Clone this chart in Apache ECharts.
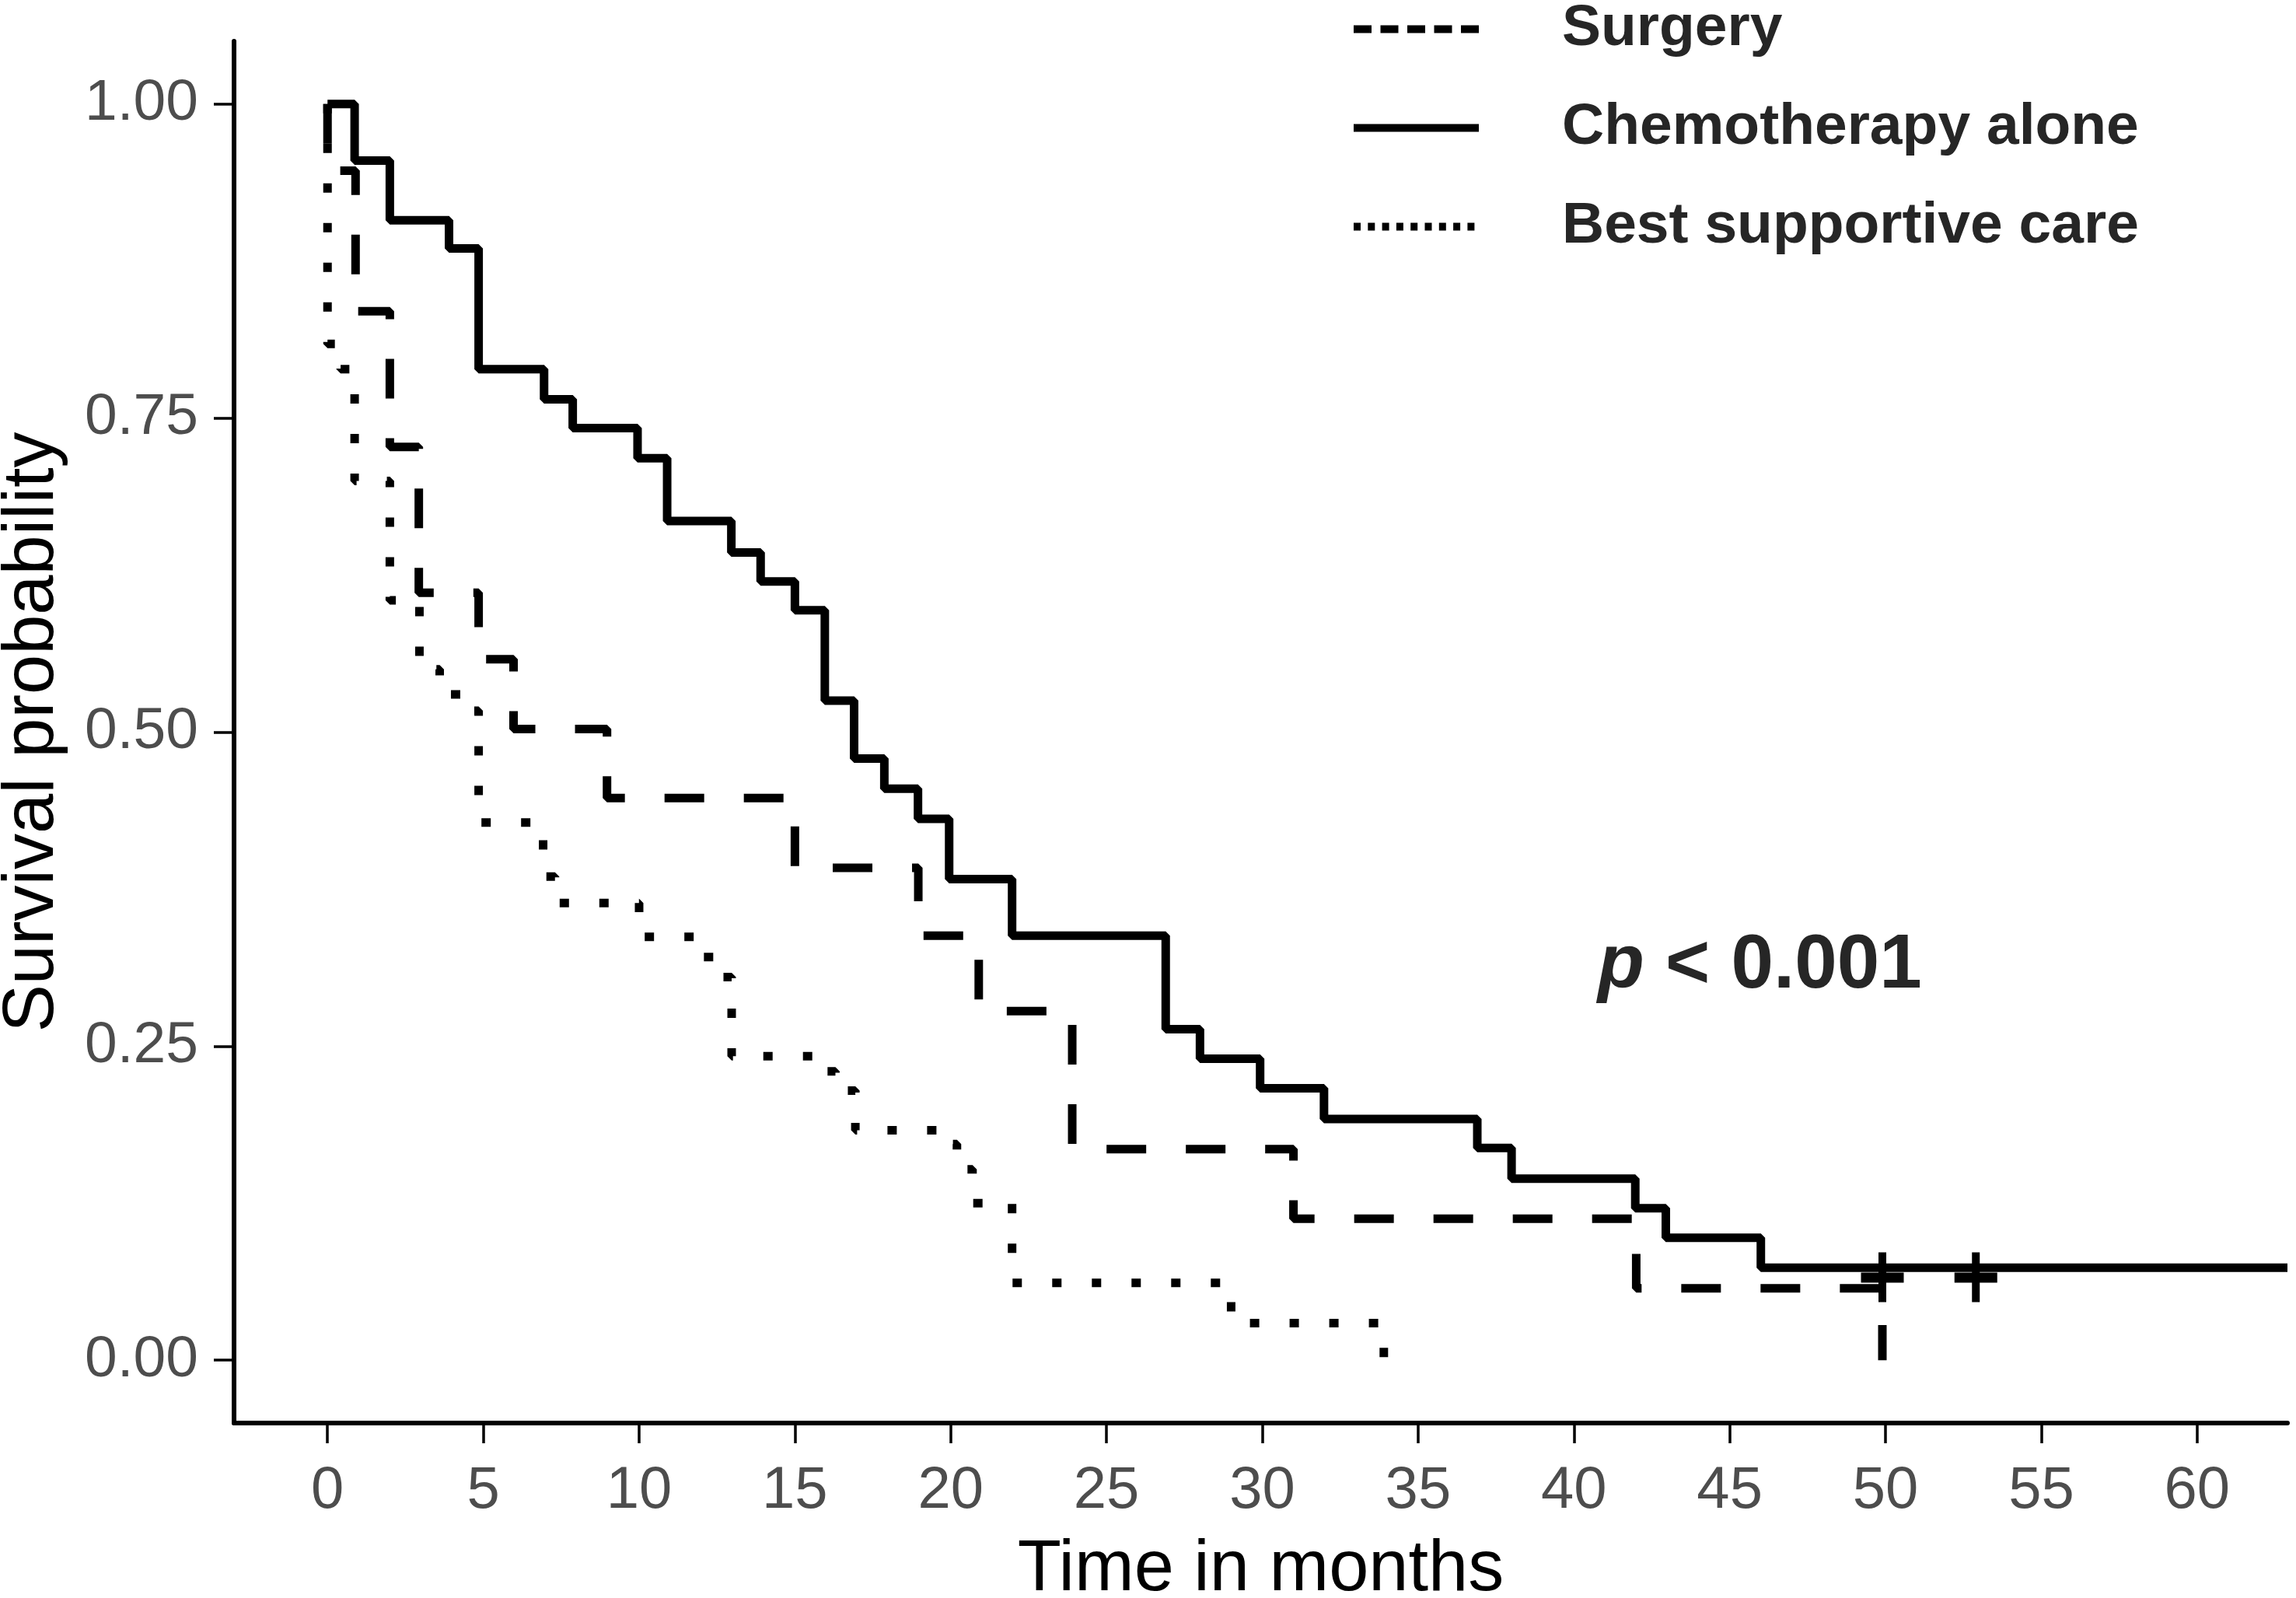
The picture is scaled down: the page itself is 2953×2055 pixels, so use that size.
<!DOCTYPE html>
<html>
<head>
<meta charset="utf-8">
<title>Survival by treatment</title>
<script src="https://cdn.jsdelivr.net/npm/echarts@6/dist/echarts.min.js"></script>
<style>
  html, body { margin: 0; padding: 0; background: #fff; overflow: hidden; }
  #chart { width: 2953px; height: 2055px; display: block; }
</style>
</head>
<body>
<div id="chart"></div>
<script>
// Kaplan-Meier steps (time in months, survival)
var surgeryTime = [0, 0, 0.9, 2.0, 2.93, 4.85, 5.97, 8.97, 15.0, 18.96, 20.9, 23.9, 31.0, 42.0, 49.9];
var surgerySurv = [1.0, 0.947, 0.835, 0.727, 0.611, 0.558, 0.5025, 0.4475, 0.392, 0.338, 0.278, 0.168, 0.1126, 0.0573, 0.0];

var chemoTime = [0, 0.87, 2.0, 3.9, 4.85, 6.95, 7.87, 9.95, 10.9, 12.96, 13.9, 15.0, 15.96, 16.9, 17.87, 18.95,
  19.95, 21.97, 26.9, 28.0, 29.93, 31.98, 36.9, 38.0, 41.97, 42.95, 46.0, 62.9];
var chemoSurv = [1.0, 0.955, 0.9075, 0.885, 0.789, 0.765, 0.742, 0.718, 0.668, 0.643, 0.620, 0.597, 0.525, 0.479, 0.455, 0.431,
  0.383, 0.338, 0.2635, 0.240, 0.2165, 0.192, 0.169, 0.1445, 0.121, 0.0975, 0.0737, 0.0737];

var bscTime = [0, 0, 0.42, 0.87, 2.0, 2.95, 3.6, 4.3, 4.85, 6.92, 7.3, 10.0, 11.8, 12.4, 12.97, 15.7, 16.3, 16.94,
  19.6, 20.2, 20.7, 21.97, 29.0, 33.9];
var bscSurv = [1.0, 0.809, 0.789, 0.70, 0.605, 0.55, 0.53, 0.517, 0.428, 0.385, 0.364, 0.337, 0.321, 0.305, 0.242, 0.230, 0.2146, 0.183,
  0.172, 0.152, 0.125, 0.0616, 0.0296, 0.0];

// censor marks on the chemotherapy curve
var censorTime = [49.9, 52.9];
var censorSurv = [0.066, 0.066];

var xTicks = [0, 5, 10, 15, 20, 25, 30, 35, 40, 45, 50, 55, 60];
var yTicks = [0, 0.25, 0.5, 0.75, 1];

var FONT = '"Liberation Sans", Arial, sans-serif';

function zip(a, b) {
  var out = [];
  for (var i = 0; i < a.length; i++) out.push([a[i], b[i]]);
  return out;
}

var chart = echarts.init(document.getElementById("chart"));

chart.setOption({
  animation: false,
  backgroundColor: "#ffffff",
  grid: {
    left: 301,
    right: 11,
    top: 53,
    bottom: 225,
    containLabel: false,
    outerBoundsMode: "none"
  },
  xAxis: {
    type: "value",
    min: -3,
    max: 62.9,
    name: "Time in months",
    nameLocation: "middle",
    nameGap: 144,
    nameTextStyle: { fontSize: 92, color: "#000", fontFamily: FONT },
    axisLine: { show: true, onZero: false, lineStyle: { color: "#000", width: 6 } },
    axisTick: { show: true, length: 26, customValues: xTicks, lineStyle: { color: "#000", width: 3.5 } },
    axisLabel: { customValues: xTicks, margin: 50, fontSize: 76, color: "#4d4d4d", fontFamily: FONT },
    splitLine: { show: false }
  },
  yAxis: {
    type: "value",
    min: -0.05,
    max: 1.05,
    name: "Survival probability",
    nameLocation: "middle",
    nameGap: 212,
    nameRotate: 90,
    nameTextStyle: { fontSize: 92, color: "#000", fontFamily: FONT },
    axisLine: { show: true, onZero: false, lineStyle: { color: "#000", width: 6 } },
    axisTick: { show: true, length: 26, customValues: yTicks, lineStyle: { color: "#000", width: 3.5 } },
    axisLabel: {
      customValues: yTicks,
      margin: 46,
      fontSize: 75,
      color: "#4d4d4d",
      fontFamily: FONT,
      formatter: function(v) { return v.toFixed(2); }
    },
    splitLine: { show: false }
  },
  legend: {
    orient: "vertical",
    left: 1736,
    top: 0,
    padding: 0,
    itemGap: 52,
    itemWidth: 161,
    itemHeight: 10,
    selectedMode: false,
    lineStyle: { width: 10, color: "#000" },
    itemStyle: { opacity: 0 },
    data: [
      { name: "Surgery", lineStyle: { type: [23, 11.5], width: 10, color: "#000" }, itemStyle: { opacity: 0 } },
      { name: "Chemotherapy alone", lineStyle: { type: "solid", width: 10, color: "#000" }, itemStyle: { opacity: 0 } },
      { name: "Best supportive care", lineStyle: { type: [9, 9.3], width: 10, color: "#000" }, itemStyle: { opacity: 0 } }
    ],
    textStyle: {
      fontSize: 75,
      fontWeight: "bold",
      color: "#262626",
      fontFamily: FONT,
      lineHeight: 68,
      padding: [0, 0, 0, 102]
    }
  },
  graphic: [
    {
      type: "text",
      x: 2055,
      y: 1243,
      style: {
        text: "{p|p} < 0.001",
        font: "bold 98px " + FONT,
        fill: "#262626",
        align: "left",
        verticalAlign: "middle",
        rich: {
          p: { fontStyle: "italic", fontWeight: "bold", fontSize: 98, fontFamily: FONT, fill: "#262626" }
        }
      }
    }
  ],
  series: [
    {
      name: "Surgery",
      type: "line",
      step: "end",
      symbol: "none",
      data: zip(surgeryTime, surgerySurv),
      itemStyle: { color: "#000" },
      lineStyle: { color: "#000", width: 11, type: [51, 51], cap: "butt" }
    },
    {
      name: "Chemotherapy alone",
      type: "line",
      step: "end",
      symbol: "none",
      data: zip(chemoTime, chemoSurv),
      itemStyle: { color: "#000" },
      lineStyle: { color: "#000", width: 11, type: "solid" }
    },
    {
      name: "Best supportive care",
      type: "line",
      step: "end",
      symbol: "none",
      data: zip(bscTime, bscSurv),
      itemStyle: { color: "#000" },
      lineStyle: { color: "#000", width: 11, type: [12, 39], cap: "butt" }
    },
    {
      name: "censor",
      type: "scatter",
      symbol: "path://M22.5,0H32.5V26H55V39H32.5V64H22.5V39H0V26H22.5Z",
      symbolSize: [55, 64],
      itemStyle: { color: "#000", opacity: 1 },
      data: zip(censorTime, censorSurv),
      z: 3
    }
  ]
});
</script>
</body>
</html>
